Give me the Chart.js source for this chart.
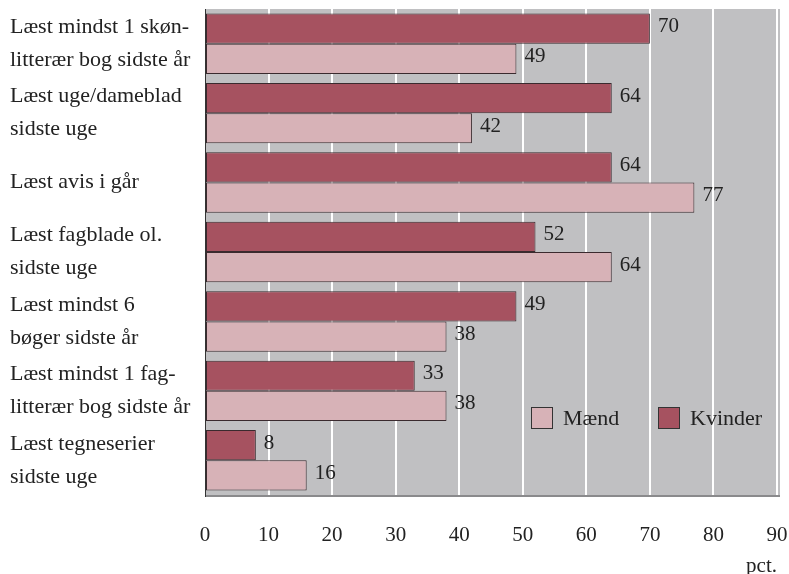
<!DOCTYPE html>
<html>
<head>
<meta charset="utf-8">
<script src="https://cdn.jsdelivr.net/npm/chart.js@4"></script>
<style>
  html, body { margin: 0; padding: 0; background: #fff; }
  #wrap { width: 789px; height: 574px; }
</style>
</head>
<body>
<div id="wrap"><canvas id="chart" width="789" height="574"></canvas></div>
<script>
const categories = [
    ['Læst mindst 1 skøn-', 'litterær bog sidste år'],
    ['Læst uge/dameblad', 'sidste uge'],
    ['Læst avis i går'],
    ['Læst fagblade ol.', 'sidste uge'],
    ['Læst mindst 6', 'bøger sidste år'],
    ['Læst mindst 1 fag-', 'litterær bog sidste år'],
    ['Læst tegneserier', 'sidste uge']
];
const kvinder = [70, 64, 64, 52, 49, 33, 8];
const maend = [49, 42, 77, 64, 38, 38, 16];
const xTicks = [0, 10, 20, 30, 40, 50, 60, 70, 80, 90];

const serif = '"Liberation Serif", "DejaVu Serif", serif';
const textColor = '#222';

// grey plot background, left axis and bottom edge
const plotBackground = {
    id: 'plotBackground',
    beforeDraw(chart) {
        const { ctx, chartArea: a } = chart;
        ctx.save();
        ctx.fillStyle = '#c0c0c2';
        ctx.fillRect(a.left, a.top, a.right - a.left + 3, a.bottom - a.top + 2);
        ctx.fillStyle = '#8a8a8c';
        ctx.fillRect(a.left, a.bottom, a.right - a.left + 3, 2);
        ctx.restore();
    },
    afterDatasetsDraw(chart) {
        const { ctx, chartArea: a } = chart;
        ctx.save();
        ctx.strokeStyle = '#333';
        ctx.lineWidth = 1;
        ctx.beginPath();
        ctx.moveTo(a.left + 0.5, a.top);
        ctx.lineTo(a.left + 0.5, a.bottom + 2);
        ctx.stroke();
        ctx.restore();
    }
};

// numbers at the end of each bar
const valueLabels = {
    id: 'valueLabels',
    afterDatasetsDraw(chart) {
        const { ctx } = chart;
        ctx.save();
        ctx.font = '21px ' + serif;
        ctx.fillStyle = textColor;
        ctx.textBaseline = 'middle';
        ctx.textAlign = 'left';
        chart.data.datasets.forEach((ds, i) => {
            chart.getDatasetMeta(i).data.forEach((bar, j) => {
                ctx.fillText(ds.data[j], bar.x + 8, bar.y - 2);
            });
        });
        ctx.restore();
    }
};

// legend inside the plot, Mænd first
const innerLegend = {
    id: 'innerLegend',
    afterDraw(chart) {
        const { ctx } = chart;
        const order = [1, 0];
        const spots = [531, 658];
        ctx.save();
        ctx.font = '22px ' + serif;
        ctx.textBaseline = 'middle';
        order.forEach((di, k) => {
            const ds = chart.data.datasets[di];
            const x = spots[k], y = 407;
            ctx.fillStyle = ds.backgroundColor;
            ctx.fillRect(x, y, 22, 22);
            ctx.strokeStyle = '#333';
            ctx.lineWidth = 1;
            ctx.strokeRect(x + 0.5, y + 0.5, 21, 21);
            ctx.fillStyle = textColor;
            ctx.fillText(ds.label, x + 32, y + 12);
        });
        ctx.restore();
    }
};

new Chart(document.getElementById('chart'), {
    type: 'bar',
    data: {
        labels: categories,
        datasets: [
            {
                label: 'Kvinder',
                data: kvinder,
                backgroundColor: '#a65260',
                borderColor: '#3a2a2e',
                borderWidth: 1,
                borderSkipped: false
            },
            {
                label: 'Mænd',
                data: maend,
                backgroundColor: '#d7b2b7',
                borderColor: '#3a2a2e',
                borderWidth: 1,
                borderSkipped: false
            }
        ]
    },
    options: {
        indexAxis: 'y',
        responsive: false,
        animation: false,
        layout: { padding: { left: 10, right: 12, top: 9, bottom: 0 } },
        datasets: { bar: { categoryPercentage: 0.87, barPercentage: 1 } },
        plugins: {
            legend: { display: false },
            tooltip: { enabled: false }
        },
        scales: {
            x: {
                min: 0,
                max: 90,
                afterBuildTicks(scale) {
                    scale.ticks = xTicks.map(v => ({ value: v }));
                },
                afterFit(scale) {
                    scale.height = 79;
                    scale.paddingLeft = 0;
                    scale.paddingRight = 0;
                },
                grid: {
                    color: ctx => (ctx.tick && ctx.tick.value === 0 ? 'rgba(0,0,0,0)' : '#ffffff'),
                    lineWidth: 2,
                    drawTicks: false
                },
                border: { display: false },
                ticks: {
                    color: textColor,
                    font: { family: serif, size: 21 },
                    padding: 28,
                    maxRotation: 0,
                    autoSkip: false
                },
                title: {
                    display: true,
                    text: 'pct.',
                    align: 'end',
                    color: textColor,
                    font: { family: serif, size: 21 },
                    padding: { top: 12, bottom: -5 }
                }
            },
            y: {
                grid: { display: false, drawTicks: false },
                border: { display: false },
                afterFit(scale) {
                    scale.width = 195;
                    scale.paddingTop = 0;
                    scale.paddingBottom = 0;
                },
                ticks: {
                    crossAlign: 'far',
                    autoSkip: false,
                    color: textColor,
                    font: { family: serif, size: 22, lineHeight: 1.5 },
                    padding: 0
                }
            }
        }
    },
    plugins: [plotBackground, valueLabels, innerLegend]
});
</script>
</body>
</html>
